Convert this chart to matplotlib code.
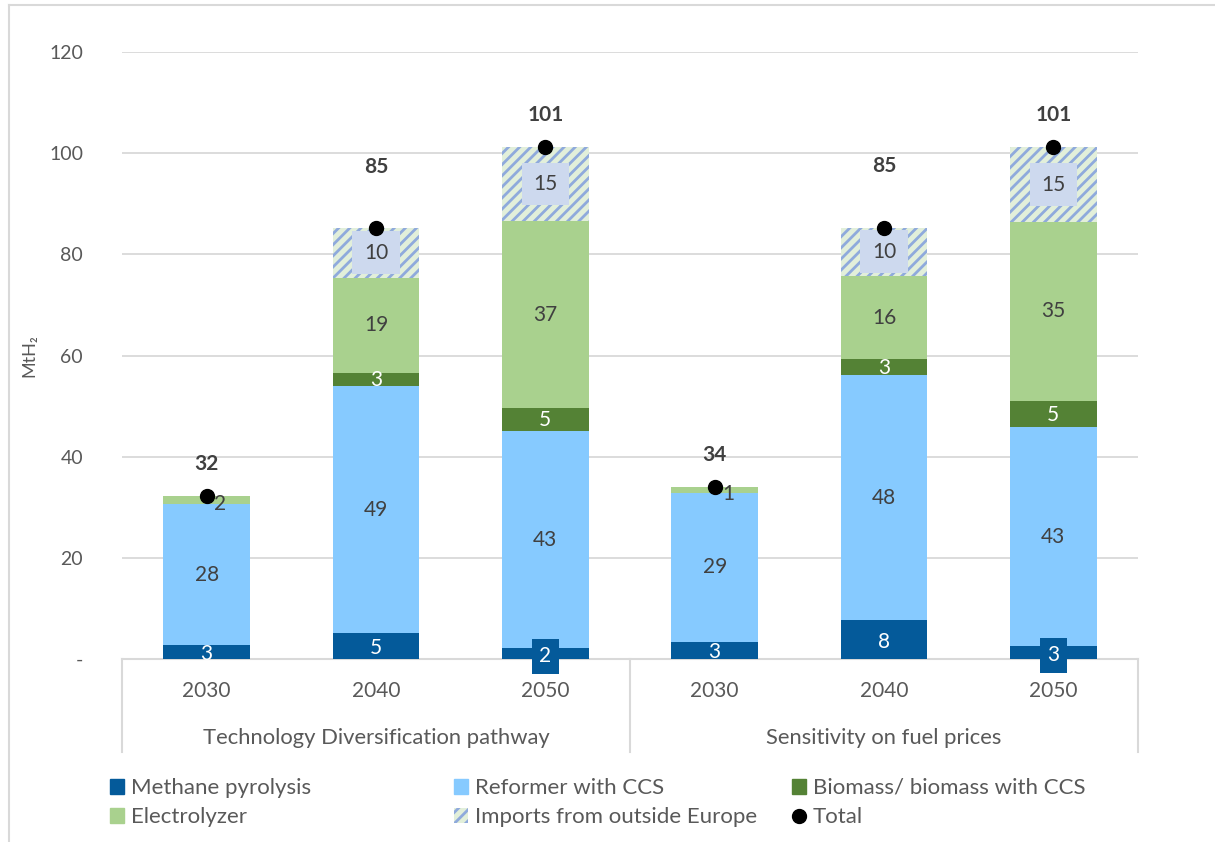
import matplotlib
matplotlib.use("Agg")
import matplotlib.pyplot as plt
from matplotlib.patches import Rectangle
from matplotlib.lines import Line2D
import numpy as np

plt.rcParams['font.family'] = ['Lato', 'DejaVu Sans']
plt.rcParams['hatch.linewidth'] = 2.0

# ---- data ----
years = ["2030", "2040", "2050", "2030", "2040", "2050"]
groups = ["Technology Diversification pathway", "Sensitivity on fuel prices"]
methane = [2.7, 5.1, 2.2, 3.4, 7.7, 2.6]
reformer = [27.9, 48.9, 42.8, 29.4, 48.4, 43.2]
biomass = [0.0, 2.6, 4.7, 0.0, 3.2, 5.2]
electrolyzer = [1.6, 18.8, 36.8, 1.2, 16.4, 35.4]
imports = [0.0, 9.8, 14.8, 0.0, 9.6, 14.8]
series_names = ["Methane pyrolysis", "Reformer with CCS", "Biomass/ biomass with CCS",
                "Electrolyzer", "Imports from outside Europe"]
y_ticks = [0, 20, 40, 60, 80, 100, 120]
y_ticklabels = ["-", "20", "40", "60", "80", "100", "120"]

colors = ["#045A9A", "#86CAFF", "#548235", "#A9D18E", "#E2EFDA"]
hatch_edge = "#8FAADC"
txt_dark = "#404040"
txt_grey = "#595959"
grid_c = "#D9D9D9"

W, H = 1215, 842
fig = plt.figure(figsize=(W / 100, H / 100), dpi=100)
ax_left, ax_right = 122 / W, 1138 / W
ax_bottom, ax_top = 1 - 659 / H, 1 - 52 / H
ax = fig.add_axes([ax_left, ax_bottom, ax_right - ax_left, ax_top - ax_bottom])

x = np.arange(len(years))
bw = 0.51
data = [methane, reformer, biomass, electrolyzer, imports]
bottom = np.zeros(len(years))
for i, vals in enumerate(data):
    vals = np.array(vals)
    if i == 4:
        ax.bar(x, vals, bw, bottom=bottom, facecolor=colors[i], edgecolor=hatch_edge,
               hatch="///", linewidth=0, zorder=2)
    else:
        ax.bar(x, vals, bw, bottom=bottom, color=colors[i], linewidth=0, zorder=2)
    for j, v in enumerate(vals):
        if v <= 0:
            continue
        cy = bottom[j] + v / 2
        lab = f"{v:.0f}"
        if i == 0:
            if v < 2.65:
                ax.text(x[j], cy - 0.6, lab, ha="center", va="center", fontsize=15, color="white",
                        zorder=5, bbox=dict(boxstyle="square,pad=0.35", fc=colors[0], ec="none"))
            else:
                ax.text(x[j], cy - 0.4, lab, ha="center", va="center", fontsize=15, color="white", zorder=5)
        elif i == 2:
            ax.text(x[j], cy - 0.2, lab, ha="center", va="center", fontsize=15, color="white", zorder=5)
        elif i == 3 and v < 3:
            ax.annotate(lab, (x[j], cy), xytext=(9.5, -3), textcoords="offset points",
                        ha="center", va="center", fontsize=15, color=txt_dark, zorder=5)
        elif i == 4:
            ax.text(x[j], cy, lab, ha="center", va="center", fontsize=15, color=txt_dark, zorder=5,
                    bbox=dict(boxstyle="square,pad=0.55", fc="#CDD9EE", ec="none"))
        else:
            ax.text(x[j], cy, lab, ha="center", va="center", fontsize=15, color=txt_dark, zorder=5)
    bottom = bottom + vals

totals = bottom
ax.plot(x, totals, "o", color="black", markersize=10, linestyle="none", zorder=6)
imp = np.array(imports)
for j, t in enumerate(totals):
    # labels sit higher where a small imports box sits just under the dot
    off = 44 if 0 < imp[j] < 12 else 23
    ax.annotate(f"{t:.0f}", (x[j], t), xytext=(0, off), textcoords="offset points",
                ha="center", va="center", fontsize=15, fontweight="bold", color=txt_dark)

ax.set_xlim(-0.5, len(years) - 0.5)
ax.set_ylim(0, 120)
ax.set_yticks(y_ticks)
ax.set_yticklabels(y_ticklabels, fontsize=14, color=txt_grey)
ax.tick_params(axis="y", length=0, pad=28)
ax.set_xticks([])
ax.yaxis.grid(True, color=grid_c, linewidth=1.3, zorder=0)
ax.set_axisbelow(True)
for s in ["top", "right", "left"]:
    ax.spines[s].set_visible(False)
ax.spines["bottom"].set_color(grid_c)
ax.spines["bottom"].set_linewidth(1.5)
ax.spines["bottom"].set_zorder(1)
ax.set_ylabel("MtH₂", fontsize=13, color=txt_grey)
ax.yaxis.set_label_coords(-0.083, 0.5)

# multi-level category axis
trans = ax.get_xaxis_transform()
for j, yr in enumerate(years):
    ax.text(x[j], -0.052, yr, transform=trans, ha="center", va="center",
            fontsize=15, color=txt_grey, clip_on=False)
ng = len(groups)
per = len(years) // ng
for g, name in enumerate(groups):
    cx = g * per + (per - 1) / 2
    ax.text(cx, -0.130, name, transform=trans, ha="center", va="center",
            fontsize=15.8, color=txt_grey, clip_on=False)
for b in np.arange(ng + 1) * per - 0.5:
    ax.add_line(Line2D([b, b], [0, -0.153], transform=trans, color=grid_c,
                       linewidth=1.5, clip_on=False))

# legend (three columns)
handles = [Rectangle((0, 0), 1, 1, color=colors[0]),
           Rectangle((0, 0), 1, 1, color=colors[1]),
           Rectangle((0, 0), 1, 1, color=colors[2]),
           Rectangle((0, 0), 1, 1, color=colors[3]),
           Rectangle((0, 0), 1, 1, facecolor=colors[4], edgecolor=hatch_edge, hatch="///", linewidth=0),
           Line2D([], [], marker="o", color="black", linestyle="none", markersize=10)]
labels = series_names + ["Total"]
cols = [(0, 3), (1, 4), (2, 5)]
col_x = [110, 454, 792]
for (a, b), cxp in zip(cols, col_x):
    fig.legend([handles[a], handles[b]], [labels[a], labels[b]], loc="upper left",
               bbox_to_anchor=(cxp / W, 1 - 778 / H), frameon=False, fontsize=16,
               handlelength=0.65, handleheight=0.65, handletextpad=0.3,
               labelspacing=0.42, borderaxespad=0, borderpad=0, labelcolor=txt_grey)

# chart border (left & top)
fig.add_artist(Line2D([9 / W, 9 / W], [0, 1 - 5 / H], transform=fig.transFigure, color=grid_c, linewidth=1.5))
fig.add_artist(Line2D([9 / W, 1], [1 - 5 / H, 1 - 5 / H], transform=fig.transFigure, color=grid_c, linewidth=1.5))

fig.savefig("out.png", dpi=100, facecolor="white")
